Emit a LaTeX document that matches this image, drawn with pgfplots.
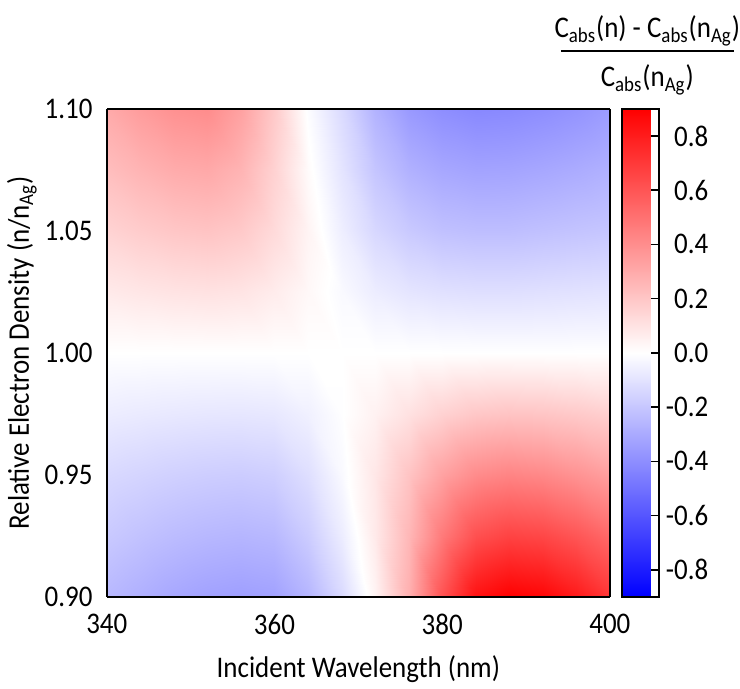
\documentclass[border=0pt]{standalone}
\usepackage{fontspec}
\setmainfont{Carlito}[FakeStretch=0.9]
\usepackage{pgfplots}
\pgfplotsset{compat=1.18}

\pgfplotsset{
  every tick label/.append style={font=\fontsize{15}{17}\selectfont, inner sep=0pt},
  /pgf/number format/assume math mode=true,
}

\begin{document}
\begin{tikzpicture}
\begin{axis}[
  name=main,
  scale only axis,
  width=252pt, height=244.5pt,
  view={0}{90},
  xmin=340, xmax=400, ymin=0.9, ymax=1.1,
  xtick={340,360,380,400}, xticklabels={340,360,380,400},
  ytick={0.90,0.95,1.00,1.05,1.10},
  yticklabels={0.90,0.95,1.00,1.05,1.10},
  major tick length=0pt,
  xticklabel style={yshift=-8.5pt},
  yticklabel style={xshift=-7pt},
  axis line style={line width=1pt},
  xlabel={Incident Wavelength (nm)},
  ylabel={Relative Electron Density (n/n\textsubscript{Ag})},
  label style={font=\fontsize{15}{17}\selectfont},
  xlabel style={at={(axis description cs:0.5,-0.147)}, anchor=center},
  ylabel style={at={(axis description cs:-0.169,0.5)}, anchor=center},
  colormap={bwr}{rgb255=(0,0,255) rgb255=(255,255,255) rgb255=(255,0,0)},
  point meta min=-0.9, point meta max=0.9,
  colorbar,
  colorbar style={
    width=18.5pt,
    at={(parent axis.north east)}, anchor=north west, xshift=-2.5pt,
    ytick={-0.8,-0.6,-0.4,-0.2,0,0.2,0.4,0.6,0.8},
    yticklabels={-0.8,-0.6,-0.4,-0.2,0.0,0.2,0.4,0.6,0.8},
    ytick pos=right, yticklabel pos=right,
    tick align=inside, major tick length=4pt,
    tick style={black, line width=0.8pt},
    yticklabel style={anchor=east, xshift=25pt,
      font=\fontsize{15}{17}\selectfont, inner sep=0pt},
    axis line style={line width=1pt},
  },
]
% relative change of the absorption cross-section, one scanline per electron density
\addplot3[surf, shader=interp] table {
x y v
340 0.900 -0.25
344 0.900 -0.28
348 0.900 -0.31
352 0.900 -0.33
356 0.900 -0.34
360 0.900 -0.33
364 0.900 -0.26
368 0.900 -0.13
372 0.900 0.04
376 0.900 0.28
380 0.900 0.61
384 0.900 0.84
388 0.900 0.90
392 0.900 0.88
396 0.900 0.81
400 0.900 0.71

340 0.925 -0.19
344 0.925 -0.215
348 0.925 -0.237
352 0.925 -0.252
356 0.925 -0.26
360 0.925 -0.25
364 0.925 -0.18
368 0.925 -0.065
372 0.925 0.075
376 0.925 0.255
380 0.925 0.47
384 0.925 0.62
388 0.925 0.665
392 0.925 0.65
396 0.925 0.60
400 0.925 0.53

340 0.950 -0.135
344 0.950 -0.15
348 0.950 -0.165
352 0.950 -0.175
356 0.950 -0.18
360 0.950 -0.17
364 0.950 -0.115
368 0.950 -0.02
372 0.950 0.085
376 0.950 0.21
380 0.950 0.33
384 0.950 0.41
388 0.950 0.435
392 0.950 0.42
396 0.950 0.385
400 0.950 0.34

340 0.975 -0.065
344 0.975 -0.073
348 0.975 -0.08
352 0.975 -0.085
356 0.975 -0.087
360 0.975 -0.082
364 0.975 -0.052
368 0.975 -0.003
372 0.975 0.048
376 0.975 0.105
380 0.975 0.16
384 0.975 0.197
388 0.975 0.21
392 0.975 0.205
396 0.975 0.19
400 0.975 0.168

340 1.000 0
344 1.000 0
348 1.000 0
352 1.000 0
356 1.000 0
360 1.000 0
364 1.000 0
368 1.000 0
372 1.000 0
376 1.000 0
380 1.000 0
384 1.000 0
388 1.000 0
392 1.000 0
396 1.000 0
400 1.000 0

340 1.025 0.075
344 1.025 0.088
348 1.025 0.098
352 1.025 0.103
356 1.025 0.095
360 1.025 0.068
364 1.025 0.025
368 1.025 -0.02
372 1.025 -0.065
376 1.025 -0.092
380 1.025 -0.107
384 1.025 -0.113
388 1.025 -0.113
392 1.025 -0.108
396 1.025 -0.103
400 1.025 -0.098

340 1.050 0.155
344 1.050 0.18
348 1.050 0.20
352 1.050 0.21
356 1.050 0.19
360 1.050 0.13
364 1.050 0.04
368 1.050 -0.06
372 1.050 -0.14
376 1.050 -0.19
380 1.050 -0.22
384 1.050 -0.23
388 1.050 -0.23
392 1.050 -0.22
396 1.050 -0.21
400 1.050 -0.20

340 1.075 0.23
344 1.075 0.265
348 1.075 0.295
352 1.075 0.305
356 1.075 0.265
360 1.075 0.16
364 1.075 0.015
368 1.075 -0.095
372 1.075 -0.205
376 1.075 -0.275
380 1.075 -0.31
384 1.075 -0.325
388 1.075 -0.322
392 1.075 -0.31
396 1.075 -0.295
400 1.075 -0.275

340 1.100 0.30
344 1.100 0.35
348 1.100 0.39
352 1.100 0.405
356 1.100 0.33
360 1.100 0.19
364 1.100 -0.01
368 1.100 -0.13
372 1.100 -0.27
376 1.100 -0.36
380 1.100 -0.40
384 1.100 -0.42
388 1.100 -0.415
392 1.100 -0.40
396 1.100 -0.38
400 1.100 -0.35
};
\end{axis}

% colour-bar heading: the normalised change of the absorption cross-section
\coordinate (frac) at ([xshift=18.75pt,yshift=29pt]main.north east);
\draw[line width=1pt] ([xshift=-43.25pt]frac) -- ([xshift=43.25pt]frac);
\node[anchor=base, inner sep=0pt, font=\fontsize{15}{17}\selectfont]
  at ([yshift=6.5pt]frac)
  {C\textsubscript{abs}(n) - C\textsubscript{abs}(n\textsubscript{Ag})};
\node[anchor=base, inner sep=0pt, font=\fontsize{15}{17}\selectfont]
  at ([yshift=-18pt]frac)
  {C\textsubscript{abs}(n\textsubscript{Ag})};

% page extent
\path ([xshift=-53.5pt,yshift=-45.5pt]main.south west)
  rectangle ([xshift=64.5pt,yshift=54.5pt]main.north east);
\end{tikzpicture}
\end{document}
